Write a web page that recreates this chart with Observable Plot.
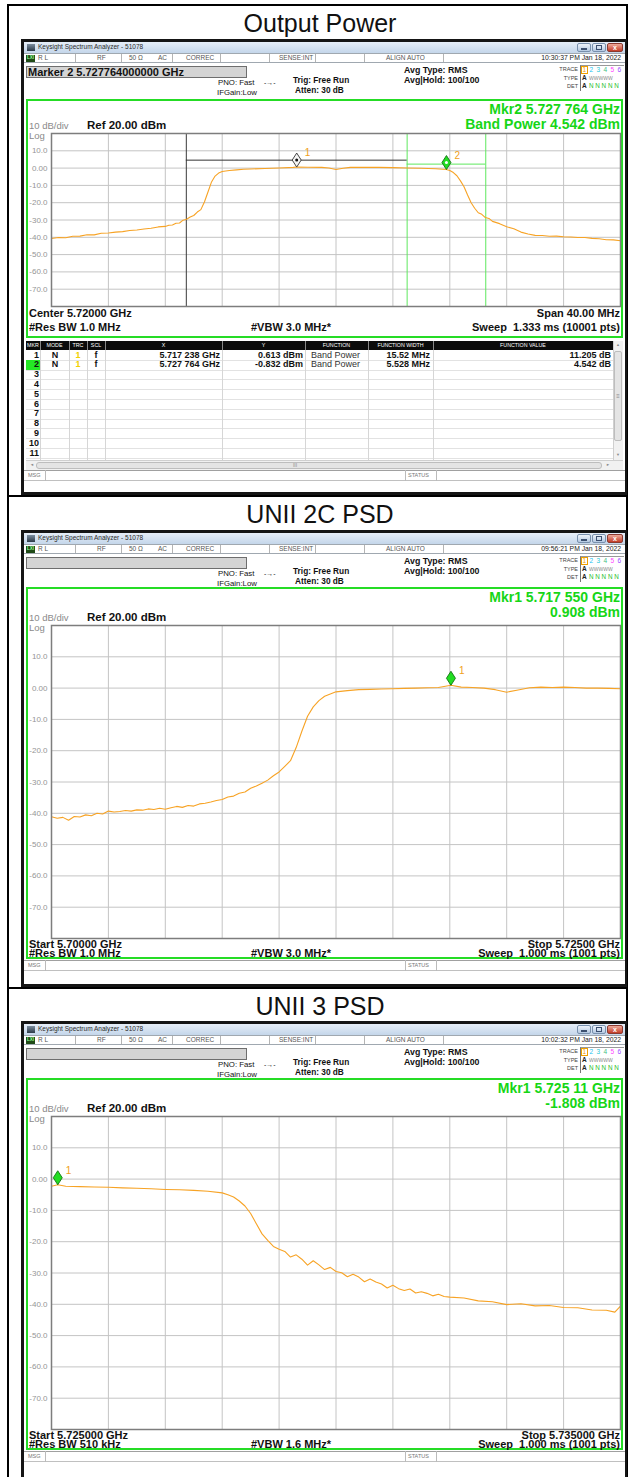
<!DOCTYPE html>
<html><head><meta charset="utf-8">
<script src="https://cdn.jsdelivr.net/npm/d3@7"></script>
<script src="https://cdn.jsdelivr.net/npm/@observablehq/plot@0.6"></script>
<style>
body{margin:0;background:#fff;}
#root{position:relative;width:634px;height:1477px;overflow:hidden;font-family:Arial,"Liberation Sans",sans-serif;background:#fff;}
.a{position:absolute;white-space:pre;}
</style></head><body><div id="root"></div>
<script>
// ---------------- DATA ----------------
const panelTitles = ["Output Power", "UNII 2C PSD", "UNII 3 PSD"];
const yTicks = [10, 0, -10, -20, -30, -40, -50, -60, -70];
const yTickLabels = ["10.0", "0.00", "-10.0", "-20.0", "-30.0", "-40.0", "-50.0", "-60.0", "-70.0"];
const refLevel = 20, bottomLevel = -80;

// Panel 1: Output Power, 5.700–5.740 GHz (offset in MHz from 5.700 GHz)
const op_span = 40;
const op_divs = [4, 8, 12, 16, 20, 24, 28, 32, 36];
const op_freq_mhz = [0,0.5,1,1.5,2,2.5,3,3.5,4,4.5,5,5.5,6,6.5,7,7.5,8,8.25,8.5,8.75,9,
  9.25,9.5,9.75,10,10.25,10.5,10.75,11,11.25,11.5,11.75,12,
  12.5,13,13.5,14,15,16,17,17.238,18,19,19.5,20,20.5,21,22,23,24,25,26,27,27.764,
  28,28.25,28.5,28.75,29,29.25,29.5,29.75,30,30.25,30.5,30.75,31,
  31.5,32,32.5,33,33.5,34,34.5,35,35.5,36,36.5,37,37.5,38,38.5,39,39.5,40];
const op_power_dbm = [-40.7,-40.1,-40.3,-39.4,-39.3,-38.5,-38.6,-37.7,-37.5,-37.0,-36.7,-36.1,-35.8,-35.2,-34.8,-34.0,-33.7,-33.0,-32.9,-31.9,-31.7,
  -30.1,-29.6,-28.3,-27.4,-25.4,-24.0,-19.6,-13.8,-8.0,-4.6,-2.9,-2.0,
  -1.4,-1.0,-0.7,-0.5,-0.2,0.1,0.4,0.613,0.5,0.4,0.1,-0.8,-0.1,0.4,0.5,0.4,0.3,0.1,-0.1,-0.4,-0.832,
  -1.4,-2.6,-4.4,-7.4,-10.8,-15.6,-20.0,-23.2,-25.8,-26.7,-28.6,-29.1,-30.8,
  -32.1,-33.9,-35.1,-37.0,-38.1,-38.9,-39.0,-39.4,-39.3,-39.7,-39.8,-40.1,-40.1,-40.6,-40.8,-41.4,-41.5,-42.0];
const op_marker_labels = ["1", "2"];
const op_marker_freq = [17.238, 27.764];
const op_marker_dbm = [0.613, -0.832];
const op_band1_edges = [9.478, 25.0];   const op_band1_level = 4.6;
const op_band2_edges = [25.0, 30.528];  const op_band2_level = 2.3;

// Panel 2: UNII 2C PSD, 5.700–5.725 GHz
const p2_span = 25;
const p2_divs = [2.5, 5, 7.5, 10, 12.5, 15, 17.5, 20, 22.5];
const p2_freq_mhz = [0,0.25,0.5,0.75,1,1.25,1.5,1.75,2,2.25,2.5,2.75,3,3.25,3.5,3.75,4,4.25,4.5,4.75,
  5,5.25,5.5,5.75,6,6.25,6.5,6.75,7,7.25,7.5,7.75,8,8.25,8.5,8.75,9,9.25,9.5,9.75,
  10,10.25,10.5,10.75,11,11.25,11.5,11.75,12,12.25,12.5,
  13,13.5,14,14.5,15,15.5,16,16.5,17,17.55,
  18,18.5,19,19.5,20,20.5,21,21.5,22,22.5,23,23.5,24,24.5,25];
const p2_power_dbm = [-41.1,-41.6,-41.3,-42.2,-41.0,-41.2,-40.5,-40.8,-40.0,-40.2,
  -39.3,-39.6,-39.4,-39.1,-39.3,-38.9,-39.0,-38.6,-38.8,-38.4,
  -38.7,-38.2,-37.8,-38.1,-37.5,-37.7,-37.0,-36.8,-36.4,-35.9,
  -35.6,-34.8,-34.5,-33.6,-33.2,-32.0,-31.3,-30.4,-29.4,-28.0,
  -26.8,-25.0,-23.2,-19.0,-13.8,-9.0,-6.0,-4.0,-2.6,-1.9,-1.2,
  -0.8,-0.5,-0.4,-0.3,-0.2,-0.1,0.0,0.1,0.2,0.908,
  0.3,0.2,0.0,-0.5,-1.3,-0.6,0.1,0.3,0.2,0.3,0.2,0.0,0.0,-0.1,-0.2];
const p2_marker_freq = [17.55];
const p2_marker_dbm = [0.908];

// Panel 3: UNII 3 PSD, 5.725–5.735 GHz
const p3_span = 10;
const p3_divs = [1, 2, 3, 4, 5, 6, 7, 8, 9];
const p3_freq_mhz = [0,0.11,0.25,0.5,0.75,1,1.25,1.5,1.75,2,2.25,2.5,2.75,3,
  3.1,3.2,3.3,3.4,3.5,3.6,3.7,3.8,3.9,4,4.1,4.2,4.3,4.4,4.5,4.6,4.7,4.8,4.9,5,
  5.1,5.2,5.3,5.4,5.5,5.6,5.7,5.8,5.9,6,6.1,6.2,6.3,6.4,6.5,6.6,6.7,6.8,6.9,7,
  7.25,7.5,7.75,8,8.25,8.5,8.75,9,9.25,9.5,9.75,9.9,10];
const p3_power_dbm = [-2.3,-1.808,-2.3,
  -2.4,-2.5,-2.6,-2.8,-2.9,-3.1,-3.3,-3.4,-3.6,-3.9,-4.4,
  -5.0,-5.7,-7.0,-8.6,-11.0,-14.3,-17.5,
  -19.6,-21.5,-22.4,-23.1,-24.9,-24.2,-25.6,-27.5,-26.1,-27.4,
  -28.9,-28.2,-29.5,-29.9,-31.2,-30.4,-31.3,-32.8,-31.9,-32.9,
  -33.5,-34.8,-33.9,-35.0,-35.6,-35.1,-36.4,-36.0,-36.5,-37.3,
  -36.8,-37.5,-37.7,
  -38.0,-38.9,-39.2,-40.1,-39.8,-40.5,-40.4,-41.0,-41.1,-41.8,-41.9,
  -42.5,-40.6];
const p3_marker_freq = [0.11];
const p3_marker_dbm = [-1.808];

// Marker table (panel 1)
const tableHeaders = ["MKR","MODE","TRC","SCL","X","Y","FUNCTION","FUNCTION WIDTH","FUNCTION VALUE"];
const tableMkr   = ["1","2","3","4","5","6","7","8","9","10","11"];
const tableMode  = ["N","N"];
const tableTrc   = ["1","1"];
const tableScl   = ["f","f"];
const tableX     = ["5.717 238 GHz","5.727 764 GHz"];
const tableY     = ["0.613 dBm","-0.832 dBm"];
const tableFn    = ["Band Power","Band Power"];
const tableFw    = ["15.52 MHz","5.528 MHz"];
const tableFv    = ["11.205 dB","4.542 dB"];

// ---------------- HELPERS ----------------
const FONT = 'Arial, "Liberation Sans", sans-serif';
const root = document.getElementById("root");
function box(x, y, w, h, st = {}) {
  const d = document.createElement("div"); d.className = "a";
  Object.assign(d.style, {left: x + "px", top: y + "px", width: w + "px", height: h + "px", boxSizing: "border-box"}, st);
  root.appendChild(d); return d;
}
function txt(x, y, s, o = {}) {
  const d = document.createElement("div"); d.className = "a"; d.textContent = s;
  const z = o.size || 8;
  Object.assign(d.style, {left: x + "px", top: (y - z / 2) + "px", fontSize: z + "px", lineHeight: "1",
    color: o.color || "#111", fontWeight: o.bold ? "bold" : "normal",
    transform: o.align === "right" ? "translateX(-100%)" : o.align === "center" ? "translateX(-50%)" : "none"});
  root.appendChild(d); return d;
}

// ---------------- OUTER TABLE ----------------
box(7, 4, 621, 2, {background: "#000"});
box(7, 4, 2, 1473, {background: "#000"});
box(626, 4, 2, 1473, {background: "#000"});
box(7, 495, 621, 2, {background: "#000"});
box(7, 987, 621, 2, {background: "#000"});
txt(320, 23, panelTitles[0], {size: 25, align: "center"});
txt(320, 514, panelTitles[1], {size: 25, align: "center"});
txt(320, 1006, panelTitles[2], {size: 25, align: "center"});

// ---------------- ANALYZER CHROME ----------------
function chrome(P) {
  const T = P.T;
  box(21, T, 606, P.H, {background: "#fff", border: "3px solid #151515", borderRight: "2px solid #151515"});
  box(24, T + 3, 601, 11, {background: "linear-gradient(#e6eef8,#c4d6ea)"});
  box(27, T + 5, 8, 7, {background: "linear-gradient(#7c8ea0,#2c3a48)"});
  txt(38, T + 8.5, "Keysight Spectrum Analyzer - 51078", {size: 6.5, color: "#2a2a2a"});
  const bt = {border: "1px solid #7890ad", borderRadius: "2px", background: "linear-gradient(#eef3fa,#b4c9e2)"};
  box(577, T + 4, 14, 9, bt); box(592, T + 4, 14, 9, bt);
  box(607, T + 4, 16, 9, {border: "1px solid #8a3a30", borderRadius: "2px", background: "linear-gradient(#eeaa9a,#c43c28)"});
  box(581, T + 9, 6, 2, {background: "#3c5070"});
  box(596, T + 6, 6, 5, {border: "1px solid #3c5070"});
  txt(615, T + 8.5, "x", {size: 7, bold: true, color: "#fff", align: "center"});
  // status row
  box(24, T + 14, 601, 10, {background: "#fff", borderTop: "1px solid #a0a8b0", borderBottom: "1px solid #a0a8b0"});
  box(26, T + 15.5, 9, 7, {background: "#1f4a16"});
  txt(27, T + 19, "LXI", {size: 4.5, color: "#9f9", bold: true});
  [75, 121, 172, 220, 269, 315, 364, 443].forEach(x => box(x, T + 15, 1, 8, {background: "#b4b4b4"}));
  const sc = "#555";
  txt(38, T + 19, "R L", {size: 6.5, color: sc});
  txt(97, T + 19, "RF", {size: 6.5, color: sc});
  txt(129, T + 19, "50 Ω", {size: 6.5, color: sc});
  txt(158, T + 19, "AC", {size: 6.5, color: sc});
  txt(186, T + 19, "CORREC", {size: 6.5, color: sc});
  txt(279, T + 19, "SENSE:INT", {size: 6.5, color: sc});
  txt(386, T + 19, "ALIGN AUTO", {size: 6.5, color: sc});
  txt(621, T + 19, P.time, {size: 6.8, color: "#222", align: "right"});
  // marker field
  box(26, T + 27, 221, 12, {background: "#d4d4d4", border: "1px solid #6e6e6e"});
  if (P.markerText) txt(28, T + 33, P.markerText, {size: 11, bold: true, color: "#111"});
  txt(218, T + 43.5, "PNO: Fast", {size: 7.8});
  txt(264, T + 43, "-→-", {size: 7, color: "#222"});
  txt(217, T + 53.5, "IFGain:Low", {size: 7.8});
  txt(293, T + 41.5, "Trig: Free Run", {size: 8.3, bold: true});
  txt(295, T + 51.5, "Atten: 30 dB", {size: 8.3, bold: true});
  txt(404, T + 31.5, "Avg Type: RMS", {size: 8.8, bold: true});
  txt(404, T + 41.5, "Avg|Hold: 100/100", {size: 8.8, bold: true});
  txt(578, T + 30.5, "TRACE", {size: 5.5, color: "#444", align: "right"});
  txt(578, T + 39.5, "TYPE", {size: 5.5, color: "#444", align: "right"});
  txt(578, T + 47.5, "DET", {size: 5.5, color: "#444", align: "right"});
  box(580, T + 26, 44, 26, {borderLeft: "1px solid #777", borderTop: "1px solid #999"});
  box(581, T + 27, 7, 8, {border: "1px solid #f0a000"});
  const tc = ["#f0a000", "#19c4f5", "#26c9d8", "#3fbf7f", "#ff3fff", "#9b4dff"];
  tc.forEach((c, i) => txt(582.5 + i * 7, T + 31, String(i + 1), {size: 6.5, color: c}));
  txt(582, T + 39.5, "A", {size: 6.5, color: "#222", bold: true});
  txt(589, T + 39.5, "WWWWW", {size: 5, color: "#888"});
  txt(582, T + 47.5, "A", {size: 6.5, color: "#222", bold: true});
  txt(589, T + 47.5, "N N N N N", {size: 6.3, color: "#2ac02a"});
  // green frame
  box(26, P.gTop, 597, P.gBot - P.gTop, {border: "2px solid #25dc25"});
  txt(620, P.gTop + 9.5, P.mkr1, {size: 14, bold: true, color: "#16d616", align: "right"});
  txt(620, P.gTop + 24.5, P.mkr2, {size: 14, bold: true, color: "#16d616", align: "right"});
  txt(29, P.plotTop - 7, "10 dB/div", {size: 9.5, color: "#8a8a8a"});
  txt(87, P.plotTop - 7, "Ref 20.00 dBm", {size: 11.5, bold: true});
  txt(29, P.plotTop + 2.5, "Log", {size: 9.5, color: "#8a8a8a"});
  txt(29, P.b1y, P.b1l, {size: 11, bold: true});
  txt(620, P.b1y, P.b1r, {size: 11, bold: true, align: "right"});
  txt(29, P.b2y, P.b2l, {size: 11, bold: true});
  txt(251, P.b2y, P.b2c, {size: 11, bold: true});
  txt(620, P.b2y, P.b2r, {size: 11, bold: true, align: "right"});
  // MSG row
  box(24, P.msgTop, 601, 11, {borderTop: "1px solid #a0a0a0", borderBottom: "1px solid #c0c0c0", background: "#fff"});
  box(45, P.msgTop, 1, 11, {background: "#bbb"});
  box(405, P.msgTop, 1, 11, {background: "#bbb"});
  box(436, P.msgTop, 1, 11, {background: "#bbb"});
  txt(28, P.msgTop + 5.5, "MSG", {size: 5.5, color: "#777"});
  txt(408, P.msgTop + 5.5, "STATUS", {size: 5.5, color: "#777"});
}

// ---------------- PLOTS ----------------
const tallDiamond = {draw(ctx) { ctx.moveTo(0, 0); ctx.lineTo(4.5, -7); ctx.lineTo(0, -14); ctx.lineTo(-4.5, -7); ctx.closePath(); }};
function spectrumPlot(o) {
  const data = o.freq.map((f, i) => ({f, p: o.power[i]}));
  const marks = [
    Plot.gridX(o.divs, {stroke: "#c4c4c4", strokeOpacity: 1, strokeWidth: 1}),
    Plot.gridY(yTicks, {stroke: "#c4c4c4", strokeOpacity: 1, strokeWidth: 1}),
    Plot.axisY(yTicks, {tickSize: 0, tickPadding: 4, tickFormat: d => yTickLabels[yTicks.indexOf(d)], fontSize: 8, fill: "#959595"}),
    ...(o.under || []),
    Plot.line(data, {x: "f", y: "p", stroke: "#f7a325", strokeWidth: 1.1}),
    Plot.frame({stroke: "#7d7d7d", strokeWidth: 1.5}),
    ...(o.over || [])
  ];
  const svg = Plot.plot({
    width: 600, height: o.h + 2, marginLeft: 30, marginRight: 1, marginTop: 1, marginBottom: 1,
    x: {domain: [0, o.span], axis: null},
    y: {domain: [bottomLevel, refLevel], label: null},
    style: {background: "transparent", fontFamily: FONT, fontSize: "8px", overflow: "visible"},
    marks
  });
  const w = document.createElement("div"); w.className = "a";
  w.style.left = "21px"; w.style.top = (o.top - 1) + "px";
  w.appendChild(svg); root.appendChild(w);
}
function markerMarks(freqs, dbms, labels, fill, stroke, dot) {
  const m = freqs.map((f, i) => ({f, p: dbms[i], label: labels[i]}));
  const out = [
    Plot.dot(m, {x: "f", y: "p", symbol: tallDiamond, fill, stroke, strokeWidth: 0.9}),
    Plot.text(m, {x: "f", y: "p", text: "label", dx: 8, dy: -14, fill: "#f0a020", fontSize: 10, textAnchor: "start"})
  ];
  if (dot) out.push(Plot.dot(m, {x: "f", y: "p", r: 1.5, fill: dot, stroke: null, dy: -7}));
  return out;
}

// ---------- Panel 1 ----------
chrome({T: 39, H: 456, time: "10:30:37 PM Jan 18, 2022", markerText: "Marker 2 5.727764000000 GHz",
  gTop: 99, gBot: 338, mkr1: "Mkr2 5.727 764 GHz", mkr2: "Band Power 4.542 dBm", plotTop: 133,
  b1y: 313, b1l: "Center 5.72000 GHz", b1r: "Span 40.00 MHz",
  b2y: 327, b2l: "#Res BW 1.0 MHz", b2c: "#VBW 3.0 MHz*", b2r: "Sweep  1.333 ms (10001 pts)", msgTop: 470});

// marker table
const cols = [26, 40, 69, 87, 105, 222, 305, 368, 433, 613];
box(26, 341, 587, 9, {background: "#0b0b0b"});
tableHeaders.forEach((h, i) => txt((cols[i] + cols[i + 1]) / 2, 345.5, h, {size: 5.3, color: "#fff", align: "center"}));
cols.slice(1, -1).forEach(x => box(x, 341, 1, 9, {background: "#888"}));
box(26, 350, 587, 110, {background: "#fff"});
for (let i = 1; i <= 11; i++) box(26, 350 + 9.8 * i, 587, 1, {background: "#e2e2e2"});
cols.slice(1, -1).forEach(x => box(x, 350, 1, 110, {background: "#d6d6d6"}));
box(26, 359.8, 14, 9.8, {background: "#24e824"});
tableMkr.forEach((m, i) => txt(39, 355 + 9.8 * i, m, {size: 9, bold: true, align: "right"}));
tableMode.forEach((v, i) => {
  const y = 355 + 9.8 * i;
  txt(55, y, v, {size: 9, bold: true, align: "center"});
  txt(78, y, tableTrc[i], {size: 9, bold: true, color: "#f2d000", align: "center"});
  txt(96, y, tableScl[i], {size: 9, bold: true, align: "center"});
  txt(220, y, tableX[i], {size: 9, bold: true, align: "right"});
  txt(303, y, tableY[i], {size: 9, bold: true, align: "right"});
  txt(311, y, tableFn[i], {size: 9, color: "#333"});
  txt(430, y, tableFw[i], {size: 9, bold: true, align: "right"});
  txt(611, y, tableFv[i], {size: 9, bold: true, align: "right"});
});
box(613, 341, 10, 119, {background: "#f1f1f1", borderLeft: "1px solid #cfcfcf"});
box(614, 351, 8, 90, {background: "#e4e4e4", border: "1px solid #bdbdbd", borderRadius: "2px"});
txt(618, 345, "▲", {size: 4, color: "#888", align: "center"});
txt(618, 455, "▼", {size: 4, color: "#888", align: "center"});
txt(618, 396, "≡", {size: 6, color: "#888", align: "center"});
box(26, 460, 597, 10, {background: "#f1f1f1", borderTop: "1px solid #cfcfcf"});
box(36, 461.5, 566, 7, {background: "#e4e4e4", border: "1px solid #bdbdbd", borderRadius: "3px"});
txt(30, 465, "◄", {size: 4, color: "#888"});
txt(606, 465, "►", {size: 4, color: "#888"});
txt(295, 465, "III", {size: 5, color: "#888", align: "center"});

spectrumPlot({freq: op_freq_mhz, power: op_power_dbm, span: op_span, divs: op_divs, top: 133, h: 173,
  under: [
    Plot.ruleX([op_band1_edges[0]], {stroke: "#3a3a3a", strokeWidth: 1}),
    Plot.ruleX([op_band2_edges[0], op_band2_edges[1]], {stroke: "#5ee85e", strokeWidth: 1}),
    Plot.ruleY([op_band1_level], {x1: op_band1_edges[0], x2: op_band1_edges[1], stroke: "#333", strokeWidth: 1}),
    Plot.ruleY([op_band2_level], {x1: op_band2_edges[0], x2: op_band2_edges[1], stroke: "#5ee85e", strokeWidth: 1})
  ],
  over: [
    ...markerMarks([op_marker_freq[0]], [op_marker_dbm[0]], [op_marker_labels[0]], "#f4f4f4", "#333", "#111"),
    ...markerMarks([op_marker_freq[1]], [op_marker_dbm[1]], [op_marker_labels[1]], "#22dd22", "#137313", "#fff")
  ]});

// ---------- Panel 2 ----------
chrome({T: 530, H: 457, time: "09:56:21 PM Jan 18, 2022", markerText: "",
  gTop: 587, gBot: 959, mkr1: "Mkr1 5.717 550 GHz", mkr2: "0.908 dBm", plotTop: 625,
  b1y: 944, b1l: "Start 5.70000 GHz", b1r: "Stop 5.72500 GHz",
  b2y: 953.5, b2l: "#Res BW 1.0 MHz", b2c: "#VBW 3.0 MHz*", b2r: "Sweep  1.000 ms (1001 pts)", msgTop: 960});
spectrumPlot({freq: p2_freq_mhz, power: p2_power_dbm, span: p2_span, divs: p2_divs, top: 625, h: 313,
  over: markerMarks(p2_marker_freq, p2_marker_dbm, ["1"], "#22dd22", "#137313", null)});

// ---------- Panel 3 ----------
chrome({T: 1021, H: 470, time: "10:02:32 PM Jan 18, 2022", markerText: "",
  gTop: 1078, gBot: 1450, mkr1: "Mkr1 5.725 11 GHz", mkr2: "-1.808 dBm", plotTop: 1116,
  b1y: 1435, b1l: "Start 5.725000 GHz", b1r: "Stop 5.735000 GHz",
  b2y: 1444.5, b2l: "#Res BW 510 kHz", b2c: "#VBW 1.6 MHz*", b2r: "Sweep  1.000 ms (1001 pts)", msgTop: 1451});
spectrumPlot({freq: p3_freq_mhz, power: p3_power_dbm, span: p3_span, divs: p3_divs, top: 1116, h: 313,
  over: markerMarks(p3_marker_freq, p3_marker_dbm, ["1"], "#22dd22", "#137313", null)});
</script></body></html>
